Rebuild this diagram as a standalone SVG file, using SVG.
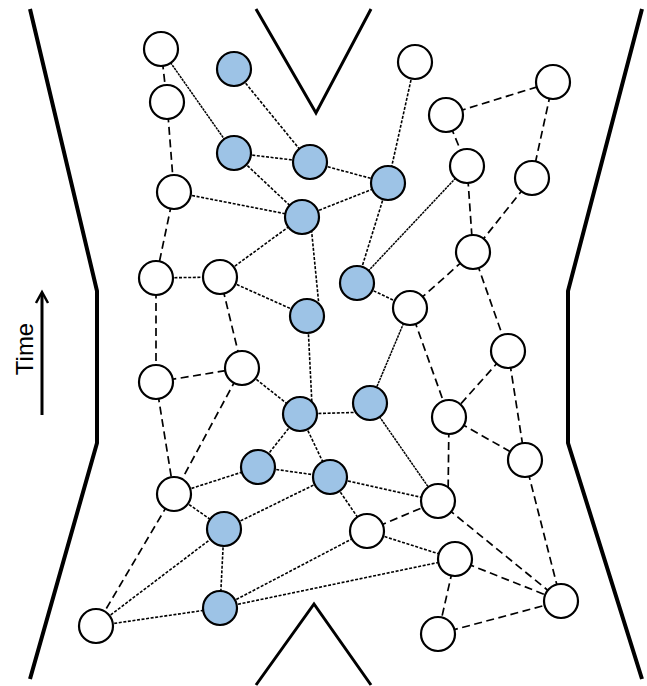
<svg xmlns="http://www.w3.org/2000/svg" width="647" height="686" viewBox="0 0 647 686">
<style>
.bd{fill:none;stroke:#000;stroke-width:4;stroke-linejoin:miter}
.vv{fill:none;stroke:#000;stroke-width:3}
.ln{stroke:#000;fill:none}
.f{stroke-width:1.6;stroke-dasharray:3 1.6}
.s{stroke-width:1.5;stroke-dasharray:2.5 0.8}
.l{stroke-width:1.7;stroke-dasharray:8 4.5}
.n circle{stroke:#000;stroke-width:2.2}
.w circle{fill:#fff}
.b circle{fill:#9DC3E6}
.t{font-family:"Liberation Sans",Arial,sans-serif;font-size:24px;fill:#000}
</style>
<rect width="647" height="686" fill="#fff"/>
<g id="boundaries">
<polyline class="bd" points="30,9 97,291 97,443 30,679"/>
<polyline class="bd" points="642,9 568,291 568,443 642,679"/>
<polyline class="vv" points="256,9 316,113 371,9"/>
<polyline class="vv" points="256,685 314,604 371,685"/>
</g>
<g id="time-axis">
<line x1="42" y1="415" x2="42" y2="294" stroke="#000" stroke-width="3"/>
<polyline points="36,303 42,292 48,303" fill="none" stroke="#000" stroke-width="2.5"/>
<text class="t" transform="translate(33,349) rotate(-90)" text-anchor="middle">Time</text>
</g>
<g id="connectors" class="ln">
<line class="l" x1="161" y1="49" x2="167" y2="102"/>
<line class="s" x1="161" y1="49" x2="234" y2="153"/>
<line class="f" x1="234" y1="69" x2="310" y2="162"/>
<line class="l" x1="167" y1="102" x2="174" y2="192"/>
<line class="f" x1="234" y1="153" x2="310" y2="162"/>
<line class="f" x1="234" y1="153" x2="302" y2="217"/>
<line class="f" x1="174" y1="192" x2="302" y2="217"/>
<line class="l" x1="174" y1="192" x2="156" y2="278"/>
<line class="f" x1="310" y1="162" x2="388" y2="183"/>
<line class="f" x1="302" y1="217" x2="388" y2="183"/>
<line class="f" x1="415" y1="62" x2="388" y2="183"/>
<line class="l" x1="446" y1="115" x2="553" y2="82"/>
<line class="l" x1="446" y1="115" x2="467" y2="166"/>
<line class="l" x1="553" y1="82" x2="532" y2="178"/>
<line class="f" x1="388" y1="183" x2="357" y2="283"/>
<line class="s" x1="467" y1="166" x2="357" y2="283"/>
<line class="l" x1="467" y1="166" x2="473" y2="252"/>
<line class="l" x1="532" y1="178" x2="473" y2="252"/>
<line class="f" x1="156" y1="278" x2="220" y2="277"/>
<line class="f" x1="220" y1="277" x2="302" y2="217"/>
<line class="f" x1="220" y1="277" x2="307" y2="316"/>
<line class="f" x1="311" y1="225" x2="319" y2="306"/>
<line class="l" x1="156" y1="278" x2="156" y2="382"/>
<line class="l" x1="220" y1="277" x2="242" y2="368"/>
<line class="l" x1="156" y1="382" x2="242" y2="368"/>
<line class="f" x1="242" y1="368" x2="300" y2="414"/>
<line class="l" x1="156" y1="382" x2="174" y2="494"/>
<line class="l" x1="242" y1="368" x2="174" y2="494"/>
<line class="f" x1="308" y1="325" x2="312" y2="405"/>
<line class="f" x1="357" y1="283" x2="410" y2="308"/>
<line class="l" x1="410" y1="308" x2="473" y2="252"/>
<line class="l" x1="473" y1="252" x2="508" y2="351"/>
<line class="s" x1="410" y1="308" x2="370" y2="403"/>
<line class="l" x1="410" y1="308" x2="449" y2="417"/>
<line class="l" x1="508" y1="351" x2="449" y2="417"/>
<line class="l" x1="508" y1="351" x2="525" y2="460"/>
<line class="l" x1="449" y1="417" x2="525" y2="460"/>
<line class="l" x1="449" y1="417" x2="448" y2="501"/>
<line class="f" x1="300" y1="414" x2="370" y2="412"/>
<line class="s" x1="370" y1="403" x2="438" y2="501"/>
<line class="f" x1="300" y1="414" x2="258" y2="467"/>
<line class="f" x1="300" y1="414" x2="330" y2="477"/>
<line class="f" x1="174" y1="494" x2="258" y2="467"/>
<line class="f" x1="258" y1="467" x2="330" y2="477"/>
<line class="f" x1="174" y1="494" x2="224" y2="529"/>
<line class="l" x1="174" y1="494" x2="96" y2="626"/>
<line class="f" x1="96" y1="626" x2="224" y2="529"/>
<line class="f" x1="96" y1="626" x2="220" y2="608"/>
<line class="f" x1="224" y1="529" x2="330" y2="477"/>
<line class="f" x1="224" y1="529" x2="220" y2="608"/>
<line class="f" x1="220" y1="608" x2="367" y2="531"/>
<line class="f" x1="220" y1="608" x2="455" y2="559"/>
<line class="f" x1="330" y1="477" x2="438" y2="501"/>
<line class="f" x1="330" y1="477" x2="367" y2="531"/>
<line class="l" x1="367" y1="531" x2="438" y2="501"/>
<line class="f" x1="367" y1="531" x2="455" y2="559"/>
<line class="l" x1="438" y1="501" x2="561" y2="601"/>
<line class="l" x1="525" y1="460" x2="561" y2="601"/>
<line class="l" x1="455" y1="559" x2="561" y2="601"/>
<line class="l" x1="455" y1="559" x2="438" y2="634"/>
<line class="l" x1="438" y1="634" x2="561" y2="601"/>
</g>
<g class="n w" id="w1"><circle cx="161" cy="49" r="17"/></g>
<g class="n w" id="w2"><circle cx="167" cy="102" r="17"/></g>
<g class="n w" id="w3"><circle cx="174" cy="192" r="17"/></g>
<g class="n w" id="w4"><circle cx="415" cy="62" r="17"/></g>
<g class="n w" id="w5"><circle cx="446" cy="115" r="17"/></g>
<g class="n w" id="w6"><circle cx="553" cy="82" r="17"/></g>
<g class="n w" id="w7"><circle cx="467" cy="166" r="17"/></g>
<g class="n w" id="w8"><circle cx="532" cy="178" r="17"/></g>
<g class="n w" id="w9"><circle cx="473" cy="252" r="17"/></g>
<g class="n w" id="w10"><circle cx="156" cy="278" r="17"/></g>
<g class="n w" id="w11"><circle cx="220" cy="277" r="17"/></g>
<g class="n w" id="w12"><circle cx="410" cy="308" r="17"/></g>
<g class="n w" id="w13"><circle cx="508" cy="351" r="17"/></g>
<g class="n w" id="w14"><circle cx="156" cy="382" r="17"/></g>
<g class="n w" id="w15"><circle cx="242" cy="368" r="17"/></g>
<g class="n w" id="w16"><circle cx="449" cy="417" r="17"/></g>
<g class="n w" id="w17"><circle cx="525" cy="460" r="17"/></g>
<g class="n w" id="w18"><circle cx="174" cy="494" r="17"/></g>
<g class="n w" id="w19"><circle cx="438" cy="501" r="17"/></g>
<g class="n w" id="w20"><circle cx="367" cy="531" r="17"/></g>
<g class="n w" id="w21"><circle cx="455" cy="559" r="17"/></g>
<g class="n w" id="w22"><circle cx="561" cy="601" r="17"/></g>
<g class="n w" id="w23"><circle cx="438" cy="634" r="17"/></g>
<g class="n w" id="w24"><circle cx="96" cy="626" r="17"/></g>
<g class="n b" id="b1"><circle cx="234" cy="69" r="17"/></g>
<g class="n b" id="b2"><circle cx="234" cy="153" r="17"/></g>
<g class="n b" id="b3"><circle cx="310" cy="162" r="17"/></g>
<g class="n b" id="b4"><circle cx="302" cy="217" r="17"/></g>
<g class="n b" id="b5"><circle cx="388" cy="183" r="17"/></g>
<g class="n b" id="b6"><circle cx="357" cy="283" r="17"/></g>
<g class="n b" id="b7"><circle cx="307" cy="316" r="17"/></g>
<g class="n b" id="b8"><circle cx="370" cy="403" r="17"/></g>
<g class="n b" id="b9"><circle cx="300" cy="414" r="17"/></g>
<g class="n b" id="b10"><circle cx="258" cy="467" r="17"/></g>
<g class="n b" id="b11"><circle cx="330" cy="477" r="17"/></g>
<g class="n b" id="b12"><circle cx="224" cy="529" r="17"/></g>
<g class="n b" id="b13"><circle cx="220" cy="608" r="17"/></g>
</svg>
